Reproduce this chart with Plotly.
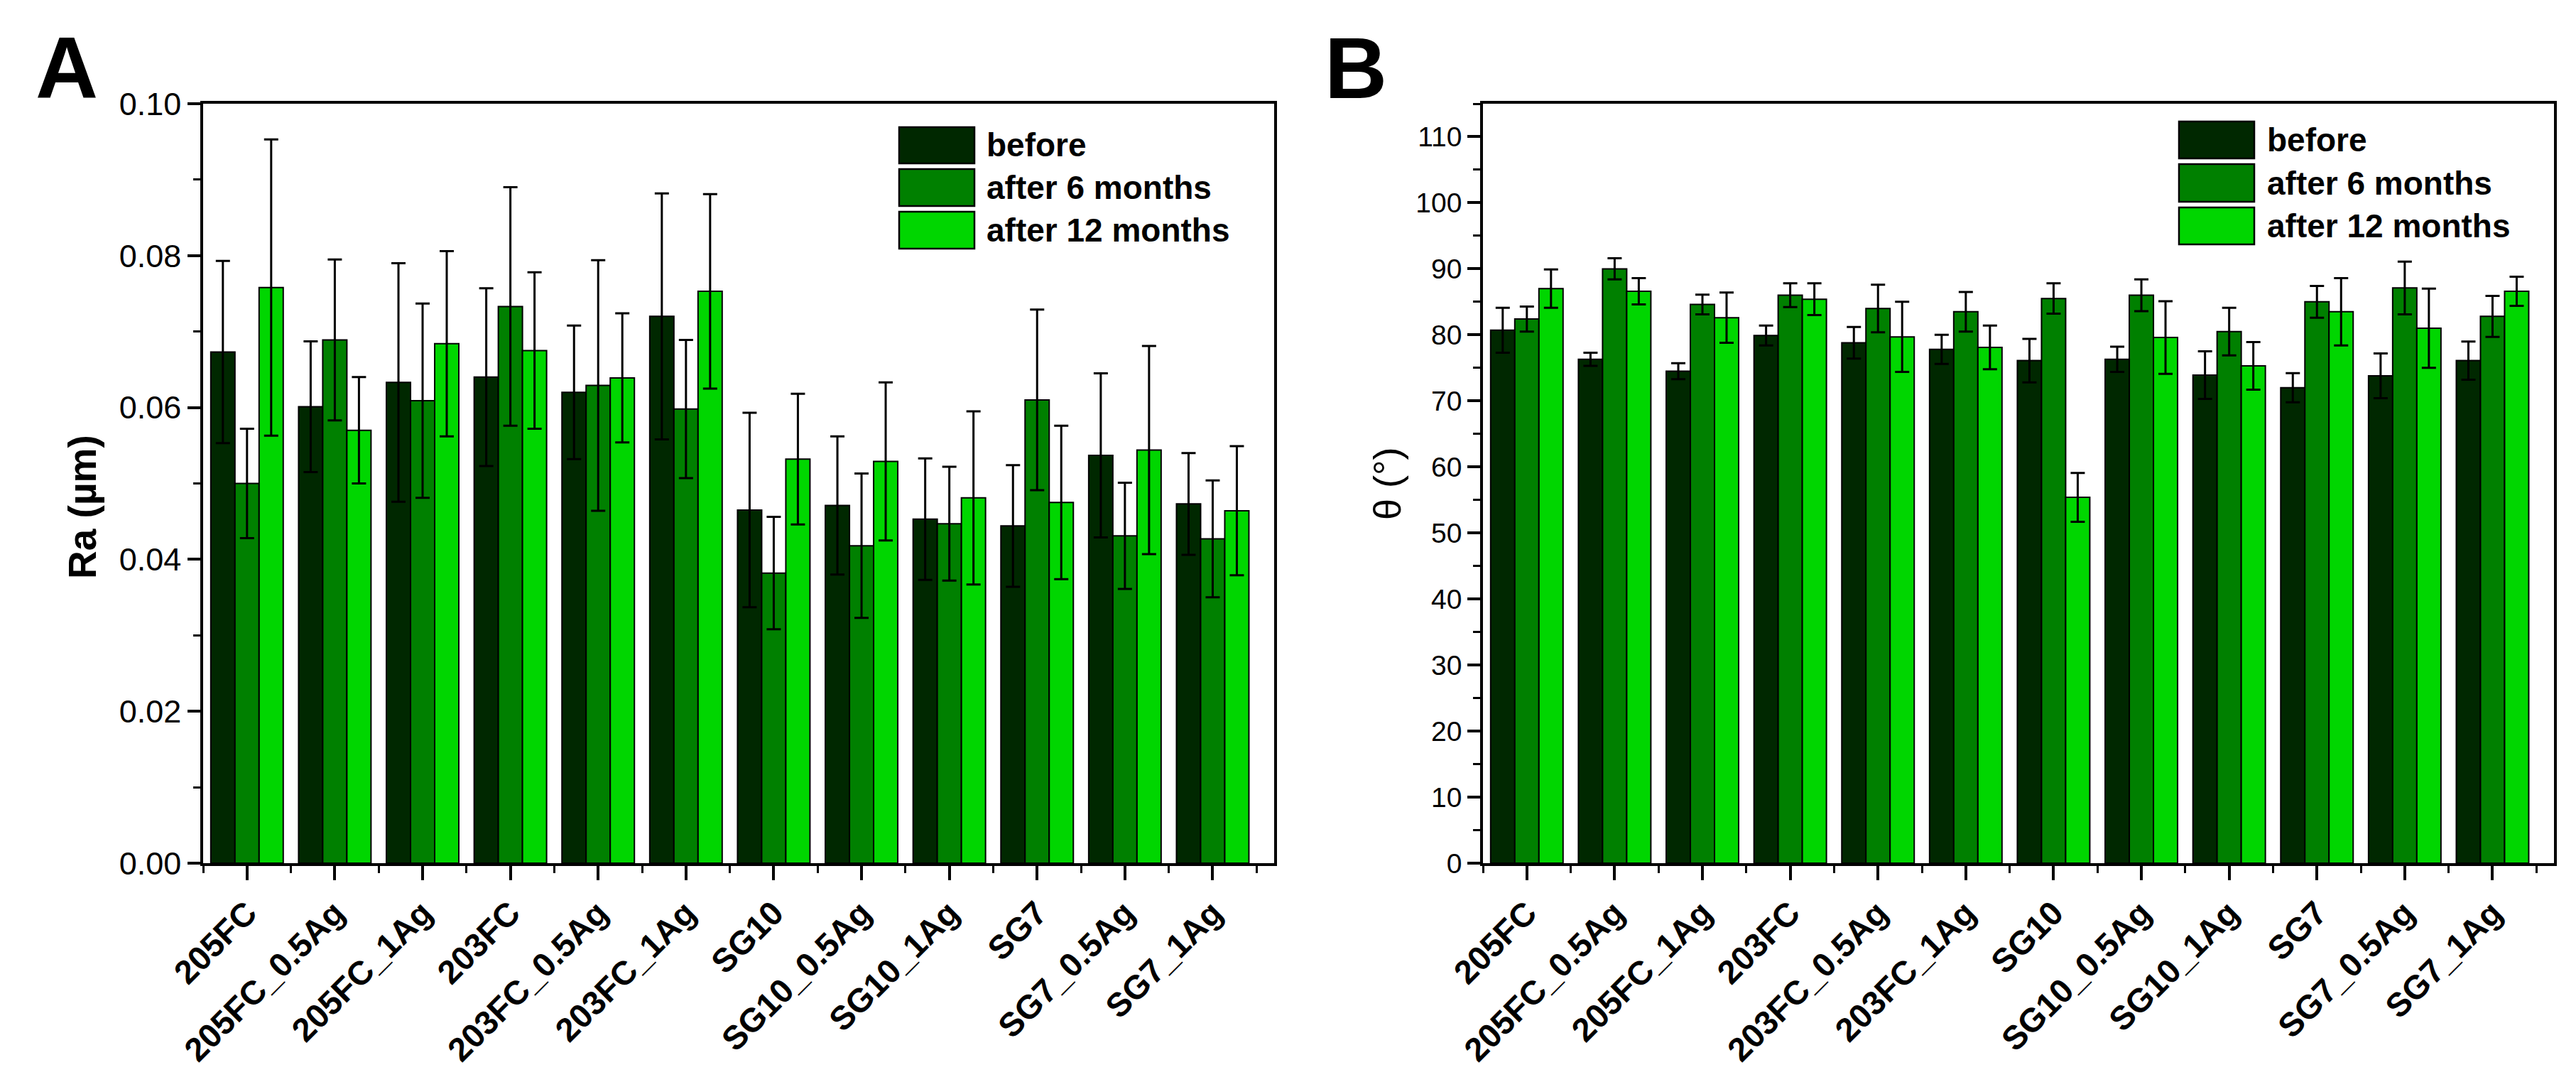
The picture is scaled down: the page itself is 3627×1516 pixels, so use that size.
import plotly.graph_objects as go

categories = ["205FC", "205FC_0.5Ag", "205FC_1Ag", "203FC", "203FC_0.5Ag", "203FC_1Ag",
              "SG10", "SG10_0.5Ag", "SG10_1Ag", "SG7", "SG7_0.5Ag", "SG7_1Ag"]
series_names = ["before", "after 6 months", "after 12 months"]

# Panel A: Ra (um)
ra_before = [0.0673, 0.0601, 0.0633, 0.0640, 0.0620, 0.0720, 0.0465, 0.0471, 0.0453, 0.0444, 0.0537, 0.0473]
ra_before_err = [0.0120, 0.0086, 0.0157, 0.0117, 0.0088, 0.0162, 0.0128, 0.0091, 0.0080, 0.0080, 0.0108, 0.0067]
ra_6m = [0.0500, 0.0689, 0.0609, 0.0733, 0.0629, 0.0598, 0.0382, 0.0418, 0.0447, 0.0610, 0.0431, 0.0427]
ra_6m_err = [0.0072, 0.0106, 0.0128, 0.0157, 0.0165, 0.0091, 0.0074, 0.0095, 0.0075, 0.0119, 0.0070, 0.0077]
ra_12m = [0.0758, 0.0570, 0.0684, 0.0675, 0.0639, 0.0753, 0.0532, 0.0529, 0.0481, 0.0475, 0.0544, 0.0464]
ra_12m_err = [0.0195, 0.0070, 0.0122, 0.0103, 0.0085, 0.0128, 0.0086, 0.0104, 0.0114, 0.0101, 0.0137, 0.0085]

# Panel B: contact angle theta (deg)
th_before = [80.7, 76.3, 74.5, 79.9, 78.8, 77.8, 76.1, 76.3, 73.9, 72.0, 73.8, 76.1]
th_before_err = [3.4, 1.0, 1.2, 1.5, 2.4, 2.2, 3.3, 1.9, 3.6, 2.2, 3.4, 2.9]
th_6m = [82.4, 90.0, 84.6, 86.0, 84.0, 83.5, 85.5, 86.0, 80.5, 85.0, 87.1, 82.8]
th_6m_err = [1.9, 1.6, 1.5, 1.8, 3.6, 3.0, 2.3, 2.4, 3.6, 2.4, 4.0, 3.1]
th_12m = [87.0, 86.6, 82.6, 85.4, 79.7, 78.1, 55.4, 79.6, 75.3, 83.5, 81.0, 86.6]
th_12m_err = [2.9, 2.0, 3.8, 2.4, 5.3, 3.3, 3.7, 5.5, 3.6, 5.1, 6.0, 2.2]

colors = ["#002800", "#008000", "#00d600"]
FONT = "Arial, Liberation Sans, sans-serif"
W, H = 3627, 1516

def px_x(x):
    return x / W

def px_y(y):
    return 1 - y / H

xpos = list(range(len(categories)))

fig = go.Figure()
A_vals = [(ra_before, ra_before_err), (ra_6m, ra_6m_err), (ra_12m, ra_12m_err)]
B_vals = [(th_before, th_before_err), (th_6m, th_6m_err), (th_12m, th_12m_err)]
for i, (v, e) in enumerate(A_vals):
    fig.add_trace(go.Bar(x=xpos, y=v, name=series_names[i], offsetgroup=str(i),
                         marker=dict(color=colors[i], line=dict(color="black", width=2)),
                         error_y=dict(type="data", array=e, color="black", thickness=3, width=10),
                         xaxis="x", yaxis="y", showlegend=False))
for i, (v, e) in enumerate(B_vals):
    fig.add_trace(go.Bar(x=xpos, y=v, name=series_names[i], offsetgroup=str(i),
                         marker=dict(color=colors[i], line=dict(color="black", width=2)),
                         error_y=dict(type="data", array=e, color="black", thickness=3, width=10),
                         xaxis="x2", yaxis="y2", showlegend=False))

ydom = [px_y(1207), px_y(138)]
xdomA = [px_x(278), px_x(1786)]
xdomB = [px_x(2080), px_x(3588)]

def xaxis_cfg(domain, anchor):
    return dict(domain=domain, anchor=anchor, range=[-0.5, 11.7], automargin=False,
                tickmode="array", tickvals=xpos, ticktext=categories, tickangle=-45,
                ticks="outside", ticklen=20, tickwidth=3.5, tickcolor="black",
                minor=dict(tickmode="linear", tick0=0.5, dtick=1, ticks="outside",
                           ticklen=10, tickwidth=3, tickcolor="black"),
                showline=True, linecolor="black", linewidth=3.5, mirror=True,
                showgrid=False, zeroline=False,
                tickfont=dict(family=FONT, size=47, color="black", weight="bold"))

def yaxis_cfg(domain, anchor, rng, dtick, mdtick, fs, fmt):
    return dict(domain=domain, anchor=anchor, range=rng, tickmode="linear", tick0=0, dtick=dtick,
                automargin=False,
                ticks="outside", ticklen=18, tickwidth=3.5, tickcolor="black",
                minor=dict(tickmode="linear", tick0=0, dtick=mdtick, ticks="outside",
                           ticklen=10, tickwidth=3, tickcolor="black"),
                showline=True, linecolor="black", linewidth=3.5, mirror=True,
                showgrid=False, zeroline=False, tickformat=fmt,
                tickfont=dict(family=FONT, size=fs, color="black"))

def yright_cfg(over, anchor, rng, dtick, mdtick):
    return dict(overlaying=over, side="right", anchor=anchor, range=rng, tickmode="linear",
                automargin=False,
                tick0=0, dtick=dtick, ticks="inside", ticklen=19, tickwidth=3.5, tickcolor="black",
                minor=dict(tickmode="linear", tick0=0, dtick=mdtick, ticks="inside",
                           ticklen=9, tickwidth=3, tickcolor="black"),
                showticklabels=False, showline=False, showgrid=False, zeroline=False)

fig.update_layout(
    width=W, height=H, autosize=False,
    margin=dict(l=0, r=0, t=0, b=0, pad=0),
    paper_bgcolor="white", plot_bgcolor="white",
    barmode="group", bargap=0.175, bargroupgap=0,
    font=dict(family=FONT, color="black"),
    xaxis=xaxis_cfg(xdomA, "y"),
    yaxis=yaxis_cfg(ydom, "x", [0, 0.1], 0.02, 0.01, 45, ".2f"),
    xaxis2=xaxis_cfg(xdomB, "y2"),
    yaxis2=yaxis_cfg(ydom, "x2", [0, 115], 10, 5, 39, "d"),
    yaxis3=yright_cfg("y", "x", [0, 0.1], 0.02, 0.01),
    yaxis4=yright_cfg("y2", "x2", [0, 115], 10, 5),
)

shapes = []
annotations = []
# custom legends (large swatches as in the original)
legend_specs = [
    dict(x0=1258, x1=1364, tx=1379, rows=[(171, 222), (230, 282), (290, 342)]),
    dict(x0=3060, x1=3166, tx=3182, rows=[(163, 215), (223, 276), (284, 336)]),
]
for spec in legend_specs:
    for i, (t, b) in enumerate(spec["rows"]):
        shapes.append(dict(type="rect", xref="paper", yref="paper",
                           x0=px_x(spec["x0"]), x1=px_x(spec["x1"]),
                           y0=px_y(b), y1=px_y(t),
                           fillcolor=colors[i], line=dict(color="black", width=2.5)))
        annotations.append(dict(x=px_x(spec["tx"]), y=px_y((t + b) / 2), xref="paper", yref="paper",
                                xanchor="left", yanchor="middle", showarrow=False,
                                text=series_names[i],
                                font=dict(family=FONT, size=46, color="black", weight="bold")))

# panel letters
annotations.append(dict(x=px_x(40), y=px_y(88), xref="paper", yref="paper", xanchor="left",
                        yanchor="middle", showarrow=False, text="A",
                        font=dict(family=FONT, size=122, color="black", weight="bold")))
annotations.append(dict(x=px_x(1855), y=px_y(88), xref="paper", yref="paper", xanchor="left",
                        yanchor="middle", showarrow=False, text="B",
                        font=dict(family=FONT, size=122, color="black", weight="bold")))
# y axis titles
annotations.append(dict(x=px_x(108), y=px_y(706), xref="paper", yref="paper", xanchor="center",
                        yanchor="middle", showarrow=False, text="Ra (µm)", textangle=-90,
                        font=dict(family=FONT, size=55, color="black", weight="bold")))
annotations.append(dict(x=px_x(1945), y=px_y(672), xref="paper", yref="paper", xanchor="center",
                        yanchor="middle", showarrow=False, text="θ (°)", textangle=-90,
                        font=dict(family=FONT, size=54, color="black")))

fig.update_layout(shapes=shapes, annotations=annotations)
fig.write_html("out.html")
